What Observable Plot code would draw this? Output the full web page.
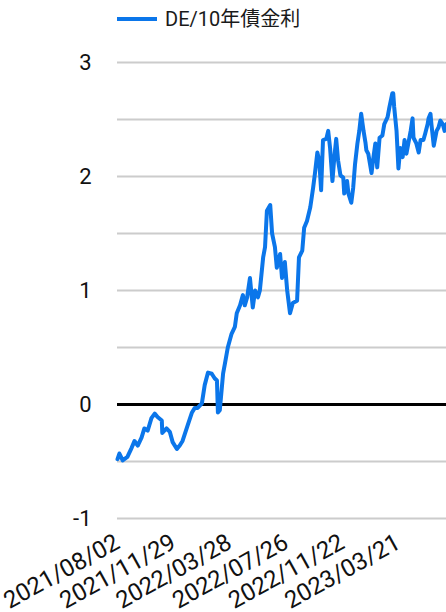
<!DOCTYPE html>
<html>
<head>
<meta charset="utf-8">
<script src="https://cdn.jsdelivr.net/npm/d3@7"></script>
<script src="https://cdn.jsdelivr.net/npm/@observablehq/plot@0.6"></script>
<style>
  html, body { margin: 0; padding: 0; background: #fff; width: 446px; height: 612px; overflow: hidden; }
  #legend { position: relative; height: 40px; font-family: Roboto, "Noto Sans CJK JP", sans-serif; font-size: 20px; color: #1a1a1a; }
  #legend .swatch { position: absolute; left: 117px; top: 17px; width: 40px; height: 4px; }
  #legend .label { position: absolute; left: 165px; top: 6px; line-height: 26px; white-space: nowrap; }
</style>
</head>
<body>
<div id="legend"></div>
<div id="chart"></div>
<script>
const seriesName = "DE/10年債金利";
const seriesColor = "#0b76ea";

const dates = [
  "2021-08-02","2021-08-06","2021-08-13","2021-08-23","2021-09-01","2021-09-07","2021-09-14","2021-09-22",
  "2021-09-28","2021-10-05","2021-10-13","2021-10-20","2021-10-26","2021-11-04","2021-11-05","2021-11-14",
  "2021-11-21","2021-11-27","2021-12-06","2021-12-12","2021-12-18","2021-12-29","2022-01-07","2022-01-13",
  "2022-01-19","2022-01-28","2022-02-03","2022-02-10","2022-02-18","2022-02-24","2022-03-01","2022-03-03",
  "2022-03-07","2022-03-14","2022-03-18","2022-03-24","2022-04-01","2022-04-08","2022-04-12","2022-04-19",
  "2022-04-25","2022-04-29","2022-05-04","2022-05-10","2022-05-16","2022-05-21","2022-05-27","2022-05-31",
  "2022-06-07","2022-06-11","2022-06-15","2022-06-22","2022-06-26","2022-07-02","2022-07-06","2022-07-13",
  "2022-07-17","2022-07-23","2022-07-28","2022-08-03","2022-08-09","2022-08-18","2022-08-22","2022-08-29",
  "2022-09-02","2022-09-08","2022-09-15","2022-09-21","2022-09-25","2022-09-30","2022-10-04","2022-10-08",
  "2022-10-12","2022-10-19","2022-10-23","2022-10-27","2022-11-01","2022-11-05","2022-11-09","2022-11-13",
  "2022-11-18","2022-11-24","2022-11-26","2022-12-02","2022-12-05","2022-12-11","2022-12-15","2022-12-19",
  "2022-12-24","2022-12-28","2023-01-01","2023-01-06","2023-01-10","2023-01-12","2023-01-16","2023-01-23",
  "2023-01-27","2023-01-31","2023-02-04","2023-02-09","2023-02-15","2023-02-19","2023-02-26","2023-03-02",
  "2023-03-08","2023-03-10","2023-03-12","2023-03-17","2023-03-21","2023-03-25","2023-03-30","2023-04-03",
  "2023-04-07","2023-04-11","2023-04-16","2023-04-20","2023-04-22","2023-04-28","2023-05-03","2023-05-07",
  "2023-05-13","2023-05-17","2023-05-22","2023-05-24","2023-05-28","2023-05-30","2023-06-04","2023-06-10",
  "2023-06-14","2023-06-18","2023-06-23","2023-06-27","2023-07-01"
];
const values = [
  -0.48,-0.43,-0.49,-0.46,-0.38,-0.32,-0.36,-0.29,
  -0.21,-0.23,-0.12,-0.08,-0.11,-0.14,-0.25,-0.21,
  -0.24,-0.33,-0.39,-0.36,-0.32,-0.18,-0.07,-0.03,
  -0.03,0.01,0.17,0.28,0.27,0.23,0.21,-0.07,
  -0.05,0.27,0.36,0.50,0.62,0.68,0.80,0.87,
  0.96,0.87,0.94,1.11,0.85,1.00,0.94,1.00,
  1.29,1.38,1.70,1.75,1.50,1.38,1.20,1.32,
  1.11,1.25,1.00,0.80,0.89,0.91,1.29,1.35,
  1.55,1.61,1.73,1.90,2.03,2.21,2.14,1.88,
  2.32,2.33,2.40,2.25,1.96,2.17,2.33,2.14,
  2.01,1.99,1.85,1.96,1.85,1.77,1.90,2.11,
  2.29,2.40,2.55,2.40,2.30,2.23,2.20,2.03,
  2.17,2.29,2.08,2.34,2.36,2.46,2.52,2.61,
  2.73,2.73,2.61,2.40,2.07,2.25,2.17,2.32,
  2.20,2.29,2.40,2.51,2.34,2.29,2.21,2.32,
  2.32,2.38,2.46,2.51,2.55,2.46,2.27,2.40,
  2.43,2.49,2.46,2.40,2.46
];
const xTickDates = ["2021-08-02","2021-11-29","2022-03-28","2022-07-26","2022-11-22","2023-03-21"];
const yTicks = [-1, 0, 1, 2, 3];
const yGrid = [-1, -0.5, 0, 0.5, 1, 1.5, 2, 2.5, 3];
const xDomain = ["2021-08-02", "2023-07-01"];

const data = dates.map((d, i) => ({date: new Date(d), value: values[i]}));

const legend = document.getElementById("legend");
legend.innerHTML = `<div class="swatch" style="background:${seriesColor}"></div><div class="label">${seriesName}</div>`;

const chart = Plot.plot({
  width: 446,
  height: 572,
  marginLeft: 117,
  marginRight: 0,
  marginTop: 22,
  marginBottom: 94,
  style: {fontFamily: "Roboto, sans-serif", fontSize: "20px", color: "#111", background: "#fff", overflow: "visible"},
  x: {type: "utc", domain: xDomain.map(d => new Date(d))},
  y: {domain: [-1, 3]},
  marks: [
    Plot.ruleY(yGrid, {stroke: "#cccccc", strokeWidth: 2}),
    Plot.ruleY([0], {stroke: "#000", strokeWidth: 3}),
    Plot.axisY({ticks: yTicks, tickSize: 0, tickPadding: 26, label: null, fontSize: 22, tickFormat: d => d}),
    Plot.axisX({ticks: xTickDates.map(d => new Date(d)), tickFormat: d3.utcFormat("%Y/%m/%d"), tickRotate: -29, tickSize: 0, tickPadding: 22, label: null, fontSize: 24}),
    Plot.line(data, {x: "date", y: "value", stroke: seriesColor, strokeWidth: 4, strokeLinejoin: "round"})
  ]
});
document.getElementById("chart").appendChild(chart);
</script>
</body>
</html>
